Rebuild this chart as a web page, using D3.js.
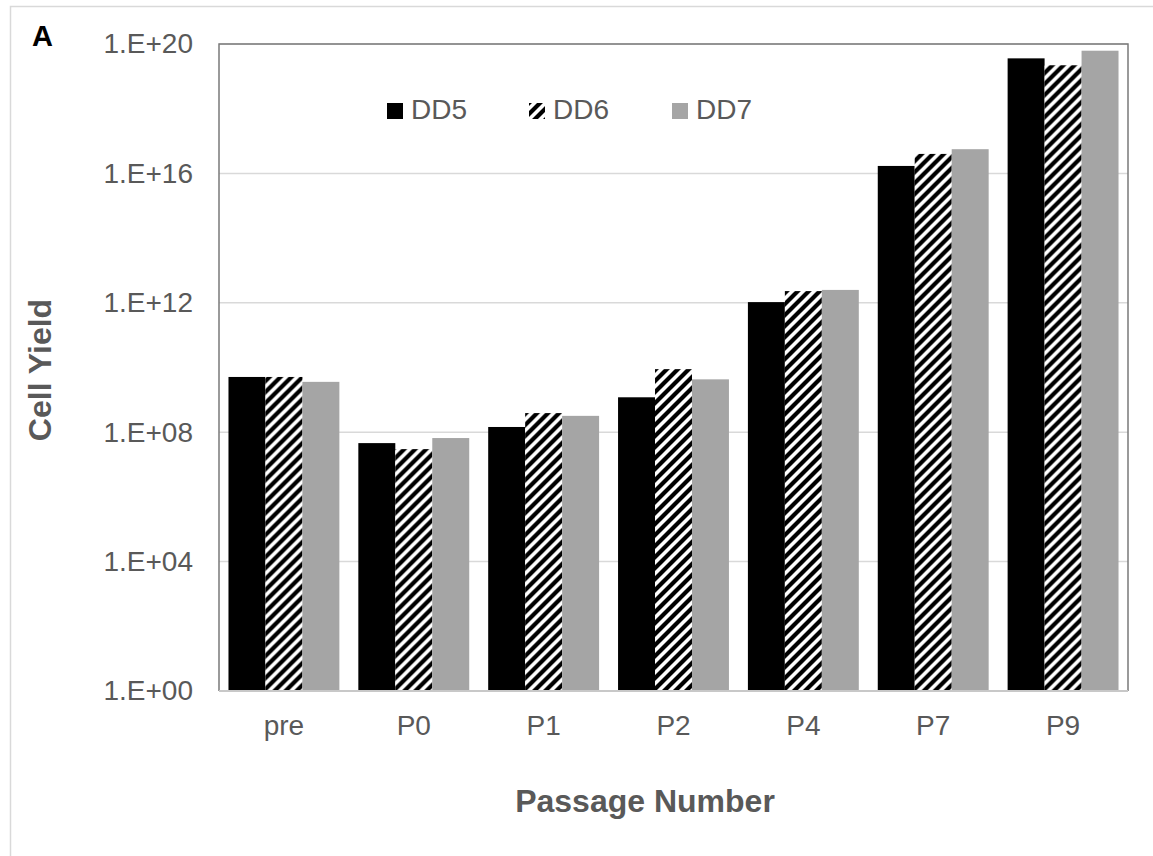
<!DOCTYPE html>
<html>
<head>
  <script src="https://d3js.org/d3.v7.min.js"></script>
  <style>
    body { margin: 0; background: #fff; font-family: "Liberation Sans", Arial, sans-serif; }
  </style>
</head>
<body>
  <svg id="chart"></svg>
  <script>
    // Data (cell yield per passage, log scale)
    const passages = ["pre", "P0", "P1", "P2", "P4", "P7", "P9"];
    const series = ["DD5", "DD6", "DD7"];
    const dd5 = [5.1e9, 4.6e7, 1.45e8, 1.2e9, 1.05e12, 1.7e16, 3.6e19];
    const dd6 = [5.1e9, 3.0e7, 3.9e8, 8.9e9, 2.3e12, 4.0e16, 2.2e19];
    const dd7 = [3.6e9, 6.6e7, 3.2e8, 4.3e9, 2.5e12, 5.6e16, 6.2e19];
    const yTicks = [1e0, 1e4, 1e8, 1e12, 1e16, 1e20];

    const values = { DD5: dd5, DD6: dd6, DD7: dd7 };
    const fills = { DD5: "#000000", DD6: "url(#hatch)", DD7: "#a5a5a5" };

    const width = 1153, height = 856;
    const margin = { left: 219, right: 25, top: 44, bottom: 165 };

    const svg = d3.select("#chart").attr("width", width).attr("height", height);

    // diagonal hatch pattern
    const p = 11;
    const pat = svg.append("defs").append("pattern")
      .attr("id", "hatch")
      .attr("patternUnits", "userSpaceOnUse")
      .attr("width", p).attr("height", p);
    pat.append("rect").attr("width", p).attr("height", p).attr("fill", "#fff");
    pat.append("path")
      .attr("d", `M-3,3 L3,-3 M0,${p} L${p},0 M${p - 3},${p + 3} L${p + 3},${p - 3}`)
      .attr("stroke", "#000").attr("stroke-width", 4.2);

    // outer chart frame
    svg.append("rect")
      .attr("x", 10.5).attr("y", 6.5)
      .attr("width", width + 20).attr("height", height + 20)
      .attr("fill", "none").attr("stroke", "#d9d9d9").attr("stroke-width", 1.5);

    const x = d3.scaleBand()
      .domain(passages)
      .range([margin.left, width - margin.right])
      .paddingInner(0.146).paddingOuter(0.073);

    const xs = d3.scaleBand().domain(series).range([0, x.bandwidth()]);

    const y = d3.scaleLog()
      .domain([1, 1e20])
      .range([height - margin.bottom, margin.top]);

    const fmt = v => "1.E+" + String(Math.round(Math.log10(v))).padStart(2, "0");

    // gridlines
    svg.append("g").selectAll("line")
      .data(yTicks)
      .join("line")
      .attr("x1", margin.left).attr("x2", width - margin.right)
      .attr("y1", d => y(d)).attr("y2", d => y(d))
      .attr("stroke", "#d9d9d9").attr("stroke-width", 1.5);

    // bars
    const groups = svg.append("g").selectAll("g")
      .data(passages)
      .join("g")
      .attr("transform", d => `translate(${x(d)},0)`);

    groups.selectAll("rect")
      .data((p, i) => series.map(s => ({ s, v: values[s][i] })))
      .join("rect")
      .attr("x", d => xs(d.s))
      .attr("width", xs.bandwidth())
      .attr("y", d => y(d.v))
      .attr("height", d => y(1) - y(d.v))
      .attr("fill", d => fills[d.s]);

    // plot area border
    svg.append("path")
      .attr("d", `M${margin.left},${y(1)} V${margin.top} H${width - margin.right} V${y(1)}`)
      .attr("fill", "none").attr("stroke", "#7a7a7a").attr("stroke-width", 1.5);
    svg.append("line")
      .attr("x1", margin.left).attr("x2", width - margin.right)
      .attr("y1", y(1)).attr("y2", y(1))
      .attr("stroke", "#c8c8c8").attr("stroke-width", 2);

    // y axis labels
    const yAxis = svg.append("g")
      .attr("transform", `translate(${margin.left - 26},0)`)
      .call(d3.axisLeft(y).tickValues(yTicks).tickFormat(fmt).tickSize(0).tickPadding(0));
    yAxis.select(".domain").remove();
    yAxis.selectAll("text")
      .attr("font-family", "Liberation Sans, Arial, sans-serif")
      .attr("font-size", 28).attr("fill", "#595959");

    // x axis labels
    const xAxis = svg.append("g")
      .attr("transform", `translate(0,${y(1)})`)
      .call(d3.axisBottom(x).tickSize(0).tickPadding(24));
    xAxis.select(".domain").remove();
    xAxis.selectAll("text")
      .attr("font-family", "Liberation Sans, Arial, sans-serif")
      .attr("font-size", 28).attr("fill", "#595959");

    // axis titles
    svg.append("text")
      .attr("x", 645).attr("y", 812)
      .attr("text-anchor", "middle")
      .attr("font-size", 32).attr("font-weight", "bold").attr("fill", "#595959")
      .text("Passage Number");

    svg.append("text")
      .attr("transform", "translate(51,370) rotate(-90)")
      .attr("text-anchor", "middle")
      .attr("font-size", 32).attr("font-weight", "bold").attr("fill", "#595959")
      .text("Cell Yield");

    svg.append("text")
      .attr("x", 32).attr("y", 46)
      .attr("font-size", 29).attr("font-weight", "bold").attr("fill", "#000")
      .text("A");

    // legend
    const legendX = [387, 529, 672];
    const legend = svg.append("g").selectAll("g")
      .data(series)
      .join("g")
      .attr("transform", (d, i) => `translate(${legendX[i]},103)`);
    legend.append("rect")
      .attr("width", 16).attr("height", 16)
      .attr("fill", d => fills[d]);
    legend.append("text")
      .attr("x", 24).attr("y", 16)
      .attr("font-size", 28).attr("fill", "#595959")
      .text(d => d);
  </script>
</body>
</html>
